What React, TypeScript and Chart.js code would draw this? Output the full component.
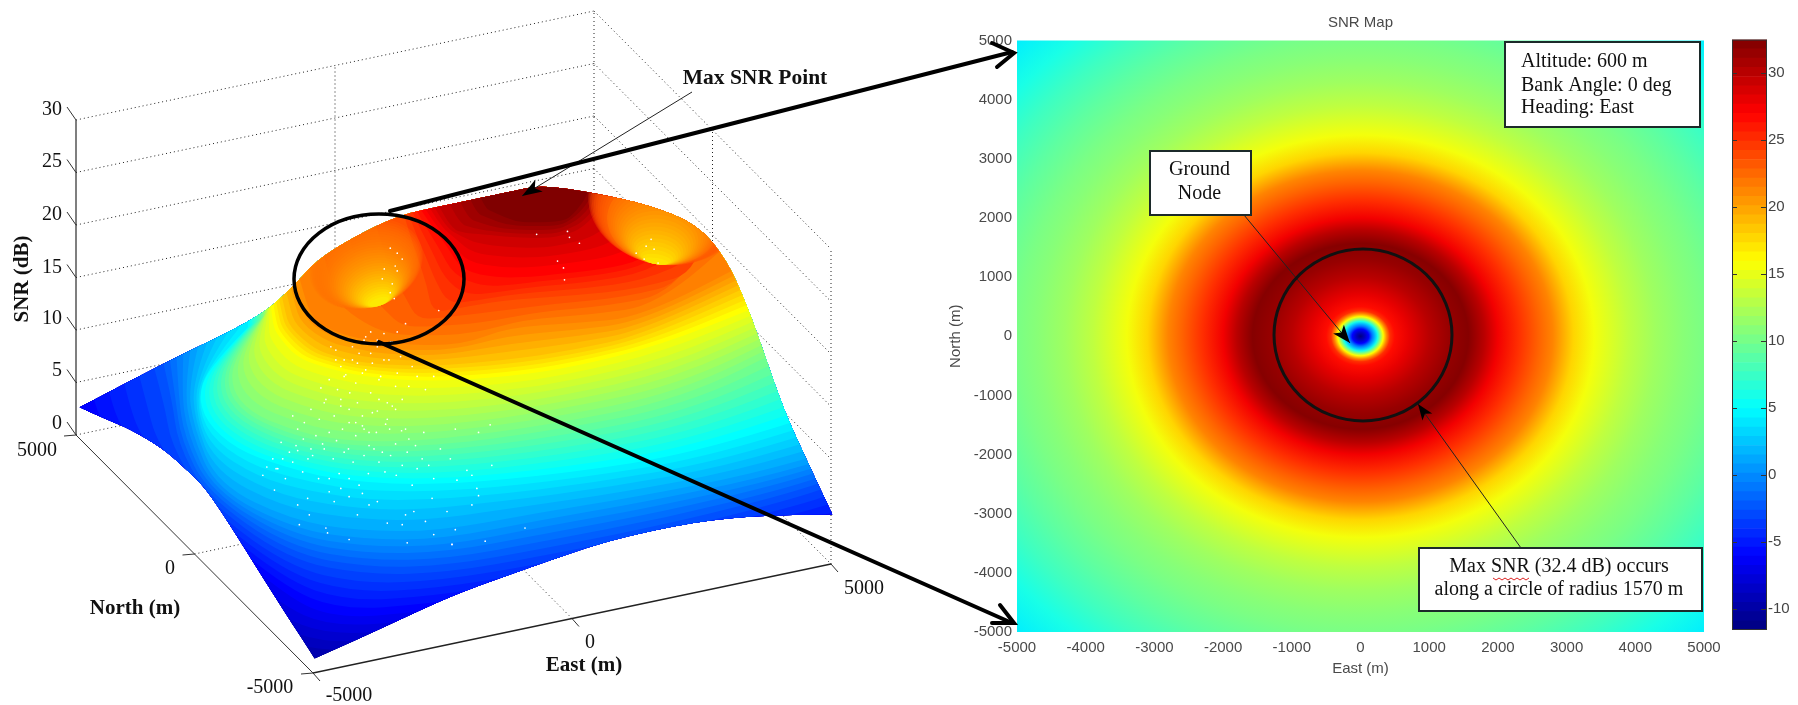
import React, { useEffect, useRef } from "react";
import { Chart, registerables } from "chart.js";

Chart.register(...registerables);

/* ---------- right map: radial SNR profile ---------- */
const mapRadii = [0, 60, 120, 170, 210, 250, 290, 330, 380, 430, 500, 700, 1000, 1300, 1570, 1800, 2000, 2300, 2600, 2800, 3100, 3400, 3900, 4300, 4700, 5000, 5500, 6000, 6500, 7100];
const mapSnr = [-11.5, -9, -6, -1, 2, 6, 11, 16, 21, 25, 26.5, 28, 30, 31.5, 32.2, 30, 27.5, 25, 22.7, 21.3, 17.8, 15.5, 13.2, 11.8, 10.8, 10.2, 9, 7.6, 6, 4.2];
const mapTicks = [-5000, -4000, -3000, -2000, -1000, 0, 1000, 2000, 3000, 4000, 5000];
const colorbarTicks = [-10, -5, 0, 5, 10, 15, 20, 25, 30];
const CLIM: [number, number] = [-11.6, 32.5];

/* ---------- left surface: SNR level contours in projected plot coordinates ---------- */
const contourLevels = [0, 1.5, 3, 5, 7, 9, 12, 15, 16.5, 18, 19.5, 21, 22.5, 24];
const contour00X = [40, 40, 100, 200, 300, 400, 500, 600, 700, 800, 850];
const contour00Y = [370, 700, 700, 700, 700, 700, 700, 700, 700, 700, 700];
const contour15X = [55, 60, 100, 180, 270, 320, 400, 500, 620, 740, 850];
const contour15Y = [375, 440, 490, 580, 640, 655, 650, 640, 630, 620, 600];
const contour30X = [70, 72, 100, 170, 277, 330, 420, 520, 650, 780, 850];
const contour30Y = [375, 412, 440, 500, 595, 622, 615, 600, 570, 545, 530];
const contour50X = [150, 167, 172, 200, 285, 370, 450, 540, 680, 815, 850];
const contour50Y = [345, 403, 445, 497, 560, 575, 572, 556, 528, 492, 475];
const contour70X = [195, 183, 190, 215, 293, 360, 440, 540, 640, 750, 850];
const contour70Y = [335, 385, 430, 490, 527, 537, 537, 517, 500, 478, 450];
const contour90X = [245, 210, 195, 203, 233, 277, 340, 440, 570, 690, 850];
const contour90Y = [327, 363, 393, 423, 450, 467, 483, 487, 474, 455, 405];
const contour120X = [260, 233, 227, 247, 287, 327, 380, 440, 540, 680, 800];
const contour120Y = [317, 353, 387, 413, 430, 440, 443, 440, 427, 400, 340];
const contour150X = [268, 270, 275, 293, 320, 360, 427, 507, 573, 660, 760];
const contour150Y = [305, 325, 335, 357, 367, 377, 382, 377, 367, 345, 305];
const contour165X = [277, 282, 287, 313, 336, 360, 420, 507, 573, 640, 760];
const contour165Y = [285, 310, 327, 350, 357, 363, 367, 360, 350, 335, 280];
const contour180X = [295, 300, 310, 340, 370, 400, 460, 507, 573, 640, 760];
const contour180Y = [270, 290, 320, 335, 340, 345, 345, 327, 323, 317, 255];
const contour195X = [395, 405, 415, 425, 430, 455, 500, 570, 640, 705, 695];
const contour195Y = [190, 225, 255, 285, 312, 308, 300, 295, 288, 268, 150];
const contour210X = [410, 425, 445, 460, 497, 530, 557, 613, 650, 680, 690];
const contour210Y = [195, 218, 245, 270, 277, 276, 273, 267, 255, 215, 150];
const contour225X = [430, 447, 465, 480, 510, 547, 565, 580, 595, 610, 630];
const contour225Y = [190, 227, 232, 233, 236, 237, 233, 227, 212, 190, 150];
const contour240X = [470, 480, 495, 513, 530, 563, 572, 578, 585, 590, 600];
const contour240Y = [170, 205, 212, 220, 221, 220, 212, 205, 195, 180, 150];
const contourXs = [contour00X, contour15X, contour30X, contour50X, contour70X, contour90X, contour120X, contour150X, contour165X, contour180X, contour195X, contour210X, contour225X, contour240X];
const contourYs = [contour00Y, contour15Y, contour30Y, contour50Y, contour70Y, contour90Y, contour120Y, contour150Y, contour165Y, contour180Y, contour195Y, contour210Y, contour225Y, contour240Y];

const silhouetteX = [76, 160, 257, 293, 313, 347, 397, 447, 507, 540, 597, 647, 697, 727, 747, 760, 783, 807, 832, 773, 730, 690, 650, 607, 565, 523, 480, 440, 393, 350, 312, 300, 287, 260, 237, 218, 200, 180, 160, 127, 100];
const silhouetteY = [408, 363, 317, 283, 260, 238, 213, 203, 190, 183, 192, 203, 223, 260, 307, 343, 410, 463, 516, 517, 520, 525, 533, 543, 557, 572, 587, 603, 625, 645, 662, 643, 623, 580, 543, 513, 487, 468, 450, 430, 419];
const silhouetteCorners = [0, 18, 30];

/* speckle seen on the surface, in crop units (3 per pixel, from 60,260) */
const speckleCropX = [600, 612, 630, 645, 655, 668, 690, 705, 720, 736, 750, 768, 785, 800, 812, 830, 845, 860, 872, 890, 905, 918, 935, 950, 968, 985, 1002, 1020, 1035, 1050, 1065, 1080, 1100, 1115, 1135, 640, 660, 680, 700, 722, 745, 760, 780, 800, 822, 840, 858, 880, 900, 920, 942, 960, 982, 1000, 1018, 1040, 1060, 1085, 690, 705, 725, 745, 770, 790, 815, 835, 860, 885, 905, 930, 950, 975, 1000, 1030, 775, 785, 800, 825, 845, 862, 880, 900, 925, 950, 975, 1000, 1020, 820, 835, 850, 870, 890, 910, 930, 955, 980, 1005, 1040, 1065, 1090, 1115, 805, 820, 845, 870, 885, 905, 925, 945, 965, 990, 1015, 1050, 910, 925, 945, 965, 985, 1005, 1030, 835, 860, 880, 900, 920, 945, 970, 990, 705, 740, 800, 815, 835, 860, 885, 900, 945, 975, 1030, 1055, 1090, 1115, 710, 795, 1035, 1170, 1180, 1250, 1285, 1165, 1215, 1290, 1230, 1185, 1245, 1250, 1230, 1155, 1180, 1270, 1390, 1170, 635, 735, 790, 860, 920, 1020, 1110, 1130];
const speckleCropY = [650, 625, 600, 630, 550, 660, 610, 575, 640, 600, 590, 660, 570, 660, 600, 645, 580, 660, 610, 680, 590, 645, 570, 610, 640, 590, 650, 620, 580, 680, 630, 600, 620, 660, 570, 630, 600, 580, 560, 540, 570, 530, 555, 520, 545, 510, 570, 530, 500, 560, 520, 580, 510, 555, 515, 540, 560, 520, 470, 510, 490, 450, 480, 420, 470, 440, 490, 430, 510, 460, 420, 480, 450, 510, 385, 430, 360, 390, 350, 400, 370, 340, 400, 360, 430, 380, 420, 300, 320, 345, 300, 280, 330, 310, 350, 300, 340, 380, 350, 390, 350, 260, 270, 300, 260, 310, 240, 280, 260, 300, 245, 290, 320, 230, 215, 240, 220, 245, 215, 190, 420, 450, 490, 470, 520, 455, 495, 440, 740, 770, 700, 730, 690, 715, 770, 705, 730, 795, 770, 760, 790, 830, 800, 825, 855, 860, 510, 520, 497, 600, 635, 620, 650, 665, 690, 712, 740, 760, 815, 850, 810, 860, 695, 720, 810, 845, 740, 800, 720, 150];
const speckleTopX = [388, 395, 400, 393, 382, 395, 380, 390, 388, 392, 535, 566, 568, 578, 556, 562, 563, 650, 645, 653, 635, 643, 657];
const speckleTopY = [247, 252, 258, 265, 268, 270, 278, 283, 292, 298, 233, 230, 236, 242, 260, 267, 279, 238, 245, 248, 252, 258, 262];

/* ---------- left axes ---------- */
const zTicks = [0, 5, 10, 15, 20, 25, 30];
const floorTicks = [-5000, 0, 5000];

const jet = (t: number) => {
  const c = (v: number) => Math.round(255 * Math.max(0, Math.min(1, v)));
  return `rgb(${c(1.5 - Math.abs(4 * t - 3))},${c(1.5 - Math.abs(4 * t - 2))},${c(1.5 - Math.abs(4 * t - 1))})`;
};
const mapColor = (v: number) => jet((v - CLIM[0]) / (CLIM[1] - CLIM[0]));
const surfColor = (v: number) => jet(v / 24);

const W = 1798;
const H = 705;

const project = (e: number, n: number, z: number) => {
  const u = (e + 5000) / 10000;
  const v = (n + 5000) / 10000;
  return { x: 313 + 518 * u - 237 * v, y: 673 - 109 * u - 238 * v - (z / 30) * 315 };
};

const pxScales = {
  x: { type: "linear", display: false, min: 0, max: W },
  y: { type: "linear", display: false, min: 0, max: H, reverse: true },
};
const baseOpts = { animation: false, responsive: false, plugins: { legend: { display: false }, tooltip: { enabled: false } } };

type T = { t: string; x: number; y: number; f: string; c?: string; r?: number; a?: CanvasTextAlign };
const drawTexts = (ctx: CanvasRenderingContext2D, list: T[]) => {
  for (const s of list) {
    ctx.save();
    ctx.translate(s.x, s.y);
    if (s.r) ctx.rotate(s.r);
    ctx.font = s.f;
    ctx.fillStyle = s.c || "#111";
    ctx.textAlign = s.a || "center";
    ctx.textBaseline = "middle";
    ctx.fillText(s.t, 0, 0);
    ctx.restore();
  }
};

const SERIF = '"Liberation Serif"';
const SANS = '"Liberation Sans"';
const tickF = `20px ${SERIF}`;
const boldF = `bold 21px ${SERIF}`;
const boxF = `20px ${SERIF}`;

const leftTexts: T[] = [
  { t: "30", x: 52, y: 110, f: tickF }, { t: "25", x: 52, y: 162, f: tickF }, { t: "20", x: 52, y: 215, f: tickF },
  { t: "15", x: 52, y: 268, f: tickF }, { t: "10", x: 52, y: 319, f: tickF }, { t: "5", x: 57, y: 371, f: tickF },
  { t: "0", x: 57, y: 424, f: tickF }, { t: "5000", x: 37, y: 451, f: tickF }, { t: "0", x: 170, y: 569, f: tickF },
  { t: "-5000", x: 270, y: 688, f: tickF }, { t: "-5000", x: 349, y: 696, f: tickF }, { t: "0", x: 590, y: 643, f: tickF },
  { t: "5000", x: 864, y: 589, f: tickF }, { t: "North (m)", x: 135, y: 609, f: boldF }, { t: "East (m)", x: 584, y: 666, f: boldF },
  { t: "SNR (dB)", x: 23, y: 279, f: boldF, r: -Math.PI / 2 },
];

function seg(a: { x: number; y: number }, b: { x: number; y: number }, style: any) {
  return { data: [a, b], pointRadius: 0, borderColor: "#333", borderWidth: 1, fill: false, ...style };
}

function gridDatasets() {
  const ds: any[] = [];
  const dot = { borderDash: [1, 3], borderColor: "#222" };
  for (const z of zTicks) {
    ds.push(seg(project(-5000, 5000, z), project(5000, 5000, z), dot));
    ds.push(seg(project(5000, 5000, z), project(5000, -5000, z), dot));
    const p = project(-5000, 5000, z);
    ds.push(seg(p, { x: p.x - 9, y: p.y - 13 }, { borderColor: "#333" }));
  }
  for (const e of [0, 5000]) ds.push(seg(project(e, 5000, 0), project(e, 5000, 30), dot));
  for (const n of [0, -5000]) ds.push(seg(project(5000, n, 0), project(5000, n, 30), dot));
  ds.push(seg(project(0, -5000, 0), project(0, 5000, 0), dot));
  ds.push(seg(project(-5000, 0, 0), project(5000, 0, 0), dot));
  ds.push(seg(project(-5000, 5000, 0), project(-5000, 5000, 30), { borderColor: "#555", borderWidth: 1.5 }));
  ds.push(seg(project(-5000, -5000, 0), project(-5000, 5000, 0), { borderColor: "#333" }));
  ds.push(seg(project(-5000, -5000, 0), project(5000, -5000, 0), { borderColor: "#222", borderWidth: 1.3 }));
  for (const t of floorTicks) {
    const a = project(t, -5000, 0);
    ds.push(seg(a, { x: a.x + 7, y: a.y + 8 }, { borderColor: "#333" }));
    const b = project(-5000, t, 0);
    ds.push(seg(b, { x: b.x - 12, y: b.y + 1 }, { borderColor: "#333" }));
  }
  return ds;
}

function bandDatasets() {
  const out: any[] = [];
  for (let i = 64; i >= 0; i--) {
    const L = (i / 64) * 24;
    let k = 0;
    while (k < contourLevels.length - 2 && contourLevels[k + 1] < L) k++;
    const f = (L - contourLevels[k]) / (contourLevels[k + 1] - contourLevels[k]);
    out.push({
      label: `SNR ${L.toFixed(1)}`,
      level: L,
      data: contourXs[k].map((x, j) => ({
        x: x + f * (contourXs[k + 1][j] - x),
        y: contourYs[k][j] + f * (contourYs[k + 1][j] - contourYs[k][j]),
      })),
      pointRadius: 0,
      showLine: false,
    });
  }
  return out;
}

const holes = [
  { ax: 378, ay: 305, rx: 58, ry: 44, irx: 10, iry: 4, rot: -0.33, outer: 18.4, inner: 14.8, softTo: 1, softAlpha: 0.22 },
  { ax: 655, ay: 263, rx: 78, ry: 62, irx: 12, iry: 3, rot: 0.16, outer: 19, inner: 15.6, softTo: 0.3, softAlpha: 0.3 },
];

const surfacePlugin = {
  id: "surfaceFill",
  beforeDraw(chart: any) {
    const { ctx, scales } = chart;
    const n = silhouetteX.length;
    const px = (i: number) => scales.x.getPixelForValue(silhouetteX[i % n]);
    const py = (i: number) => scales.y.getPixelForValue(silhouetteY[i % n]);
    ctx.save();
    ctx.beginPath();
    ctx.moveTo(px(0), py(0));
    for (let i = 1; i <= n; i++) {
      if (silhouetteCorners.includes(i % n)) ctx.lineTo(px(i), py(i));
      else ctx.quadraticCurveTo(px(i), py(i), (px(i) + px(i + 1)) / 2, (py(i) + py(i + 1)) / 2);
    }
    ctx.closePath();
    ctx.clip();
  },
  beforeDatasetsDraw(chart: any) {
    const { ctx, scales } = chart;
    const ds = chart.data.datasets;
    for (let i = ds.length - 1; i >= 0; i--) {
      if (ds[i].level === undefined) continue;
      const pts = chart.getDatasetMeta(i).data;
      ctx.beginPath();
      ctx.moveTo(pts[0].x, -10);
      ctx.lineTo(pts[0].x, pts[0].y);
      for (let j = 1; j < pts.length - 1; j++) {
        const mx = (pts[j].x + pts[j + 1].x) / 2;
        const my = (pts[j].y + pts[j + 1].y) / 2;
        ctx.quadraticCurveTo(pts[j].x, pts[j].y, mx, my);
      }
      const last = pts[pts.length - 1];
      ctx.lineTo(last.x, last.y);
      ctx.lineTo(last.x, -10);
      ctx.closePath();
      ctx.fillStyle = surfColor(ds[i].level);
      ctx.fill();
    }
    for (const h of holes) {
      const ax = scales.x.getPixelForValue(h.ax);
      const ay = scales.y.getPixelForValue(h.ay);
      const steps = 30;
      for (let s = 0; s <= steps; s++) {
        const f = s / steps;
        const rx = h.rx + (h.irx - h.rx) * f;
        const ry = h.ry + (h.iry - h.ry) * f;
        ctx.save();
        ctx.translate(ax, ay);
        ctx.rotate(h.rot);
        ctx.globalAlpha = f <= h.softTo ? h.softAlpha : 1;
        ctx.beginPath();
        ctx.ellipse(0, -ry, rx, ry, 0, 0, Math.PI * 2);
        ctx.fillStyle = surfColor(h.outer + (h.inner - h.outer) * Math.pow(f, 1.6));
        ctx.fill();
        ctx.restore();
      }
    }
  },
  afterDatasetsDraw(chart: any) {
    chart.ctx.restore();
  },
};

const radialMapPlugin = {
  id: "radialMap",
  beforeDatasetsDraw(chart: any) {
    const { ctx, scales, chartArea: a } = chart;
    const points = chart.data.datasets[0].data;
    const rmax = points[points.length - 1].x;
    const cx = scales.x.getPixelForValue(0);
    const cy = scales.y.getPixelForValue(0);
    const rx = scales.x.getPixelForValue(rmax) - cx;
    const ry = cy - scales.y.getPixelForValue(rmax);
    ctx.save();
    ctx.beginPath();
    ctx.rect(a.left, a.top, a.right - a.left, a.bottom - a.top);
    ctx.clip();
    ctx.translate(cx, cy);
    ctx.scale(1, ry / rx);
    const g = ctx.createRadialGradient(0, 0, 0, 0, 0, rx);
    points.forEach((p: any, i: number) => g.addColorStop(p.x / rmax, mapColor(mapSnr[i])));
    ctx.fillStyle = g;
    ctx.fillRect(-rx, -rx, 2 * rx, 2 * rx);
    ctx.restore();
  },
};

const colorbarPlugin = {
  id: "colorbarFrame",
  afterDraw(chart: any) {
    const { ctx, chartArea: a, scales } = chart;
    ctx.save();
    ctx.strokeStyle = "#333";
    ctx.lineWidth = 1;
    ctx.strokeRect(a.left + 0.5, a.top + 0.5, a.right - a.left - 1, a.bottom - a.top - 1);
    for (const t of colorbarTicks) {
      const y = Math.round(scales.y.getPixelForValue(t)) + 0.5;
      ctx.beginPath();
      ctx.moveTo(a.left, y);
      ctx.lineTo(a.left + 5, y);
      ctx.moveTo(a.right - 6, y);
      ctx.lineTo(a.right, y);
      ctx.stroke();
    }
    ctx.restore();
  },
};

const arrowHead = (ctx: CanvasRenderingContext2D, fx: number, fy: number, tx: number, ty: number, len: number, wid: number) => {
  const a = Math.atan2(ty - fy, tx - fx);
  ctx.save();
  ctx.translate(tx, ty);
  ctx.rotate(a);
  ctx.beginPath();
  ctx.moveTo(0, 0);
  ctx.lineTo(-len, -wid);
  ctx.lineTo(-len * 0.75, 0);
  ctx.lineTo(-len, wid);
  ctx.closePath();
  ctx.fillStyle = "#000";
  ctx.fill();
  ctx.restore();
};

const overlayTexts: T[] = [
  { t: "Max SNR Point", x: 755, y: 78, f: `bold 21.5px ${SERIF}` },
  { t: "Altitude: 600 m", x: 1521, y: 62, f: boxF, a: "left" },
  { t: "Bank Angle: 0 deg", x: 1521, y: 85.5, f: boxF, a: "left" },
  { t: "Heading: East", x: 1521, y: 108, f: boxF, a: "left" },
  { t: "Ground", x: 1199.5, y: 170, f: boxF },
  { t: "Node", x: 1199.5, y: 194, f: boxF },
  { t: "Max SNR (32.4 dB) occurs", x: 1559, y: 567, f: boxF },
  { t: "along a circle of radius 1570 m", x: 1559, y: 590, f: boxF },
];

const overlayPlugin = {
  id: "annotations",
  afterDatasetsDraw(chart: any) {
    const ctx = chart.ctx as CanvasRenderingContext2D;
    ctx.save();
    ctx.strokeStyle = "#000";
    ctx.lineWidth = 3.5;
    ctx.beginPath();
    ctx.ellipse(379, 279, 85, 65, 0, 0, Math.PI * 2);
    ctx.stroke();
    ctx.lineWidth = 3;
    ctx.strokeStyle = "#111";
    ctx.beginPath();
    ctx.ellipse(1363, 335, 89, 86, 0, 0, Math.PI * 2);
    ctx.stroke();
    arrowHead(ctx, 692, 92, 522, 196, 20, 7);
    arrowHead(ctx, 1244, 215, 1350, 343, 18, 7);
    arrowHead(ctx, 1521, 548, 1418, 404, 16, 6);
    for (const b of [[1505, 42, 195, 85], [1150, 151, 101, 64], [1419, 548, 283, 63]]) {
      ctx.fillStyle = "#fff";
      ctx.fillRect(b[0], b[1], b[2], b[3]);
      ctx.strokeStyle = "#1c2a2a";
      ctx.lineWidth = 2;
      ctx.strokeRect(b[0], b[1], b[2], b[3]);
    }
    drawTexts(ctx, overlayTexts);
    ctx.strokeStyle = "#d22";
    ctx.lineWidth = 1;
    ctx.beginPath();
    for (let i = 0; i <= 12; i++) {
      const x = 1493 + i * 3;
      const y = 578 + (i % 2 ? 2 : 0);
      if (i) ctx.lineTo(x, y);
      else ctx.moveTo(x, y);
    }
    ctx.stroke();
    ctx.restore();
  },
};

function overlayDatasets() {
  const thick = { borderWidth: 4, borderColor: "#000", borderCapStyle: "round", borderJoinStyle: "miter" };
  const thin = { borderWidth: 1, borderColor: "#222" };
  return [
    seg({ x: 390, y: 211 }, { x: 1012, y: 52 }, thick),
    { data: [{ x: 992, y: 43 }, { x: 1014, y: 53 }, { x: 997, y: 67 }], pointRadius: 0, fill: false, ...thick },
    seg({ x: 379, y: 342 }, { x: 1012, y: 623 }, thick),
    { data: [{ x: 1000, y: 605 }, { x: 1014, y: 623 }, { x: 992, y: 623 }], pointRadius: 0, fill: false, ...thick },
    seg({ x: 692, y: 92 }, { x: 522, y: 196 }, thin),
    seg({ x: 1244, y: 215 }, { x: 1350, y: 343 }, thin),
    seg({ x: 1521, y: 548 }, { x: 1418, y: 404 }, thin),
  ];
}

export default function App() {
  const gridRef = useRef<HTMLCanvasElement>(null);
  const surfRef = useRef<HTMLCanvasElement>(null);
  const mapRef = useRef<HTMLCanvasElement>(null);
  const barRef = useRef<HTMLCanvasElement>(null);
  const overRef = useRef<HTMLCanvasElement>(null);

  useEffect(() => {
    const charts: Chart[] = [];
    charts.push(
      new Chart(gridRef.current as any, {
        type: "line",
        data: { datasets: gridDatasets() },
        options: { ...baseOpts, scales: pxScales },
        plugins: [{ id: "leftTexts", afterDatasetsDraw: (c: any) => drawTexts(c.ctx, leftTexts) }],
      } as any),
    );

    const speckle = {
      label: "speckle",
      data: [
        ...speckleCropX.map((x, i) => ({ x: 60 + x / 3, y: 260 + speckleCropY[i] / 3 })),
        ...speckleTopX.map((x, i) => ({ x, y: speckleTopY[i] })),
      ],
      showLine: false,
      pointRadius: 0.85,
      pointBorderWidth: 0,
      pointBackgroundColor: "#fff",
    };
    charts.push(
      new Chart(surfRef.current as any, {
        type: "scatter",
        data: { datasets: [speckle, ...bandDatasets()] },
        options: { ...baseOpts, scales: pxScales },
        plugins: [surfacePlugin],
      } as any),
    );

    const axisFont = { family: SANS, size: 15 };
    charts.push(
      new Chart(mapRef.current as any, {
        type: "scatter",
        data: { datasets: [{ label: "SNR Map", data: mapRadii.map((x) => ({ x, y: 0 })), pointRadius: 0, showLine: false }] },
        options: {
          ...baseOpts,
          layout: { padding: { left: 943, right: W - 1704, top: 0, bottom: H - 632 - 50 } },
          plugins: {
            legend: { display: false },
            tooltip: { enabled: false },
            title: { display: true, text: "SNR Map", fullSize: false, font: { ...axisFont, weight: "normal" }, color: "#4a4a4a", padding: { top: 14, bottom: 8.5 } },
          },
          scales: {
            x: {
              type: "linear",
              min: -5000,
              max: 5000,
              afterFit: (s: any) => { s.height = 50; },
              afterBuildTicks: (s: any) => { s.ticks = mapTicks.map((value) => ({ value })); },
              grid: { display: false, drawTicks: false },
              border: { display: false },
              ticks: { font: axisFont, color: "#4a4a4a", maxRotation: 0, autoSkip: false, padding: 7, callback: (v: any) => String(v) },
              title: { display: true, text: "East (m)", font: axisFont, color: "#4a4a4a" },
            },
            y: {
              type: "linear",
              min: -5000,
              max: 5000,
              afterFit: (s: any) => { s.width = 74; },
              afterBuildTicks: (s: any) => { s.ticks = mapTicks.map((value) => ({ value })); },
              grid: { display: false, drawTicks: false },
              border: { display: false },
              ticks: { font: axisFont, color: "#4a4a4a", autoSkip: false, padding: 5, callback: (v: any) => String(v) },
              title: { display: true, text: "North (m)", font: axisFont, color: "#4a4a4a" },
            },
          },
        },
        plugins: [radialMapPlugin],
      } as any),
    );

    const bands: any[] = [];
    for (let i = 0; i < 64; i++) {
      const lo = CLIM[0] + (i / 64) * (CLIM[1] - CLIM[0]);
      const hi = CLIM[0] + ((i + 1) / 64) * (CLIM[1] - CLIM[0]);
      bands.push({ data: [[lo, hi]], backgroundColor: mapColor((lo + hi) / 2), borderWidth: 0, barPercentage: 1, categoryPercentage: 1, grouped: false });
    }
    charts.push(
      new Chart(barRef.current as any, {
        type: "bar",
        data: { labels: ["SNR"], datasets: bands },
        options: {
          ...baseOpts,
          layout: { padding: { left: 1732, right: 0, top: 39.6, bottom: H - 630 } },
          scales: {
            x: { display: false },
            y: {
              type: "linear",
              position: "right",
              min: CLIM[0],
              max: CLIM[1],
              afterFit: (s: any) => { s.width = 31; },
              afterBuildTicks: (s: any) => { s.ticks = colorbarTicks.map((value) => ({ value })); },
              grid: { display: false, drawTicks: false },
              border: { display: false },
              ticks: { font: axisFont, color: "#444", padding: 1, autoSkip: false, callback: (v: any) => String(v) },
            },
          },
        },
        plugins: [colorbarPlugin],
      } as any),
    );

    charts.push(
      new Chart(overRef.current as any, {
        type: "line",
        data: { datasets: overlayDatasets() },
        options: { ...baseOpts, scales: pxScales },
        plugins: [overlayPlugin],
      } as any),
    );
    return () => charts.forEach((c) => c.destroy());
  }, []);

  const st: React.CSSProperties = { position: "absolute", left: 0, top: 0, width: W, height: H, display: "block" };
  return (
    <div style={{ position: "fixed", left: 0, top: 0, width: W, height: H, background: "#fff", overflow: "hidden" }}>
      <canvas ref={gridRef} width={W} height={H} style={st} />
      <canvas ref={surfRef} width={W} height={H} style={st} />
      <canvas ref={mapRef} width={W} height={H} style={st} />
      <canvas ref={barRef} width={W} height={H} style={st} />
      <canvas ref={overRef} width={W} height={H} style={st} />
    </div>
  );
}
